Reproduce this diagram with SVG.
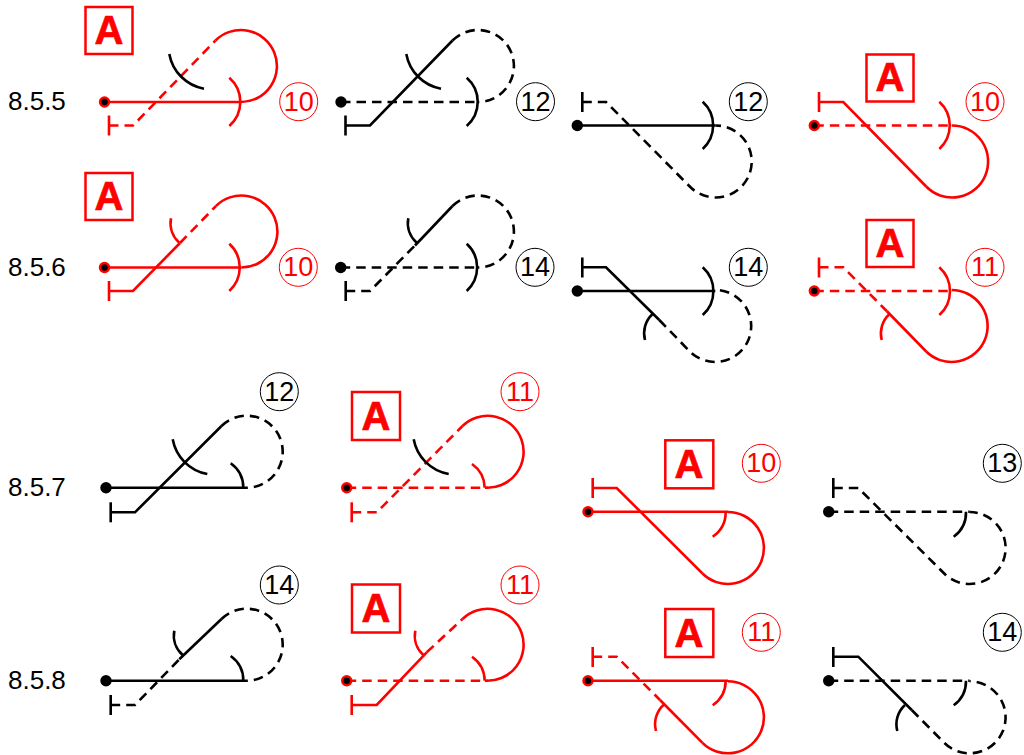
<svg xmlns="http://www.w3.org/2000/svg" width="1024" height="755" viewBox="0 0 1024 755">
<style>
path{fill:none;stroke-width:2.6}
.r{stroke:#f00}
.k{stroke:#000}
.d{stroke-dasharray:9.5 6}
.m{fill:#f00}
.o{fill:#000}
.nr{fill:#fff;stroke:#f00;stroke-width:1}
.nk{fill:#fff;stroke:#000;stroke-width:1}
text{font-family:"Liberation Sans",Arial,sans-serif}
.t{font-size:26px;fill:#000}
.v{font-size:27px;text-anchor:middle}
.b{fill:#fff;stroke:#f00;stroke-width:2.5}
.a{font-size:40px;font-weight:bold;fill:#f00;stroke:#f00;stroke-width:.7;text-anchor:middle}
</style>
<g id="labels">
<text class="t" x="8" y="110">8.5.5</text>
<text class="t" x="8" y="276">8.5.6</text>
<text class="t" x="8" y="496">8.5.7</text>
<text class="t" x="8" y="689">8.5.8</text>
</g>

<g id="fig-855-1">
<path class="r" d="M104.5 102H241"/>
<path class="r" d="M109 115.5V135.500"/>
<path class="r d" d="M109 125.500H133L215.500 40.500"/>
<path class="r" d="M215.500 40.500A36 36 0 1 1 241 102"/>
<path class="r" d="M229.300 77.700A32 32 0 0 1 229.300 126"/>
<path class="k" d="M169.300 54A43 43 0 0 0 204 88.700"/>
<circle class="m" cx="104.500" cy="102" r="5.700"/><circle class="o" cx="104.500" cy="102" r="3.200"/>
<circle class="nr" cx="298.700" cy="101.700" r="19"/><text class="v" x="298.700" y="110.500" fill="#f00">10</text>
<rect class="b" x="85.500" y="7" width="47" height="47"/><text class="a" x="109" y="44">A</text>
</g>
<g id="fig-855-2">
<path class="k d" d="M341 102H478"/>
<path class="k" d="M345.500 115.500V135.500"/>
<path class="k" d="M345.500 125.500H370L452.500 40.500"/>
<path class="k d" d="M452.500 40.500A36 36 0 1 1 478 102"/>
<path class="k" d="M466.700 77.700A32 32 0 0 1 466.700 126"/>
<path class="k" d="M406.300 54A43 43 0 0 0 441 88.700"/>
<circle class="o" cx="341" cy="102" r="5.700"/>
<circle class="nk" cx="535.500" cy="101.700" r="19"/><text class="v" x="535.500" y="110.500" fill="#000">12</text>
</g>
<g id="fig-855-3">
<path class="k" d="M577.300 125.500H715.300"/>
<path class="k" d="M582.300 92V112"/>
<path class="k d" d="M582.300 102H606L689.800 186.500A36 36 0 1 0 715.300 125.500"/>
<path class="k" d="M702.700 101.700A32 32 0 0 1 702.700 149"/>
<circle class="o" cx="577.300" cy="125.500" r="5.700"/>
<circle class="nk" cx="748.300" cy="101.700" r="19"/><text class="v" x="748.300" y="110.500" fill="#000">12</text>
</g>
<g id="fig-855-4">
<path class="r d" d="M814.300 125.500H951.700"/>
<path class="r" d="M819 92V112"/>
<path class="r" d="M819 102H843.300L926.200 186.500"/>
<path class="r" d="M951.700 125.500A36 36 0 1 1 926.200 186.500"/>
<path class="r" d="M939.300 101.700A32 32 0 0 1 939.300 149"/>
<circle class="m" cx="814.300" cy="125.500" r="5.700"/><circle class="o" cx="814.300" cy="125.500" r="3.200"/>
<circle class="nr" cx="985" cy="101.700" r="19"/><text class="v" x="985" y="110.500" fill="#f00">10</text>
<rect class="b" x="866.500" y="54.500" width="47" height="47"/><text class="a" x="890" y="91">A</text>
</g>

<g id="fig-856-1">
<path class="r" d="M104.500 267.500H241.500"/>
<path class="r" d="M109 281V301"/>
<path class="r" d="M109 291H133L180 243"/>
<path class="r d" d="M180 243L216 206"/>
<path class="r" d="M216 206A36 36 0 1 1 241.500 267.500"/>
<path class="r" d="M229.300 243.700A32 32 0 0 1 229.300 291"/>
<path class="r" d="M171 218.300A26 26 0 0 0 179.300 242.700"/>
<circle class="m" cx="104.500" cy="267.500" r="5.700"/><circle class="o" cx="104.500" cy="267.500" r="3.200"/>
<circle class="nr" cx="298.300" cy="267.300" r="19"/><text class="v" x="298.300" y="276" fill="#f00">10</text>
<rect class="b" x="85.500" y="173" width="47" height="47"/><text class="a" x="109" y="210">A</text>
</g>
<g id="fig-856-2">
<path class="k d" d="M340.700 267.500H478"/>
<path class="k" d="M345.700 281V301"/>
<path class="k d" d="M345.700 291H370L415 245.500"/>
<path class="k" d="M415 245.500L452.500 206"/>
<path class="k d" d="M452.500 206A36 36 0 1 1 478 267.500"/>
<path class="k" d="M466.700 243.700A32 32 0 0 1 466.700 291"/>
<path class="k" d="M408.300 218.300A26 26 0 0 0 416.700 242.700"/>
<circle class="o" cx="340.700" cy="267.500" r="5.700"/>
<circle class="nk" cx="535" cy="267.300" r="19"/><text class="v" x="535" y="276" fill="#000">14</text>
</g>
<g id="fig-856-3">
<path class="k" d="M577.300 291H715.300"/>
<path class="k" d="M582.300 257.500V277.500"/>
<path class="k" d="M582.300 267.300H606L659.300 320"/>
<path class="k d" d="M659.300 320L689.800 351.500A36 36 0 1 0 715.300 290"/>
<path class="k" d="M702.700 267.300A32 32 0 0 1 702.700 315"/>
<path class="k" d="M645 340A26 26 0 0 1 652.300 314.300"/>
<circle class="o" cx="577.300" cy="291" r="5.700"/>
<circle class="nk" cx="748.300" cy="267.300" r="19"/><text class="v" x="748.300" y="276" fill="#000">14</text>
</g>
<g id="fig-856-4">
<path class="r d" d="M814.300 291H951.700"/>
<path class="r" d="M819 257.500V277.500"/>
<path class="r d" d="M819 267.300H843.300L886.700 311"/>
<path class="r" d="M886.700 311L926.200 351.500"/>
<path class="r" d="M951.700 290A36 36 0 1 1 926.200 351.500"/>
<path class="r" d="M939.300 267.300A32 32 0 0 1 939.300 315"/>
<path class="r" d="M881.700 340A26 26 0 0 1 889.300 314.300"/>
<circle class="m" cx="814.300" cy="291" r="5.700"/><circle class="o" cx="814.300" cy="291" r="3.200"/>
<circle class="nr" cx="985" cy="267.300" r="19"/><text class="v" x="985" y="276" fill="#f00">11</text>
<rect class="b" x="866.500" y="220" width="47" height="47"/><text class="a" x="890" y="257">A</text>
</g>

<g id="fig-857-1">
<path class="k" d="M106 487.700H247"/>
<path class="k" d="M110.700 502.300V522.300"/>
<path class="k" d="M110.700 512.300H135L221.500 426"/>
<path class="k d" d="M221.500 426A36 36 0 1 1 247 487.700"/>
<path class="k" d="M230.700 463.300A30 30 0 0 1 243.300 487.700"/>
<path class="k" d="M172.700 439.300A43 43 0 0 0 207.300 474"/>
<circle class="o" cx="106" cy="487.700" r="5.700"/>
<circle class="nk" cx="279.300" cy="391.700" r="19"/><text class="v" x="279.300" y="400.500" fill="#000">12</text>
</g>
<g id="fig-857-2">
<path class="r d" d="M346.700 487.700H488"/>
<path class="r" d="M351.700 502.300V522.300"/>
<path class="r d" d="M351.700 512.300H376.700L462.500 426"/>
<path class="r" d="M462.500 426A36 36 0 1 1 485 487.700"/>
<path class="r" d="M472 464A30 30 0 0 1 484.700 487.700"/>
<path class="k" d="M413.700 439.300A43 43 0 0 0 448.700 474"/>
<circle class="m" cx="346.700" cy="487.700" r="5.700"/><circle class="o" cx="346.700" cy="487.700" r="3.200"/>
<circle class="nr" cx="520" cy="391.700" r="19"/><text class="v" x="520" y="400.500" fill="#f00">11</text>
<rect class="b" x="352" y="392" width="48" height="48"/><text class="a" x="376" y="430">A</text>
</g>
<g id="fig-857-3">
<path class="r" d="M588 511.700H728"/>
<path class="r" d="M592.700 478V498"/>
<path class="r" d="M592.700 488H616.700L702.500 573.500"/>
<path class="r" d="M728 512A36 36 0 1 1 702.500 573.500"/>
<path class="r" d="M725.700 511.700A30 30 0 0 1 712.700 536.700"/>
<circle class="m" cx="588" cy="511.700" r="5.700"/><circle class="o" cx="588" cy="511.700" r="3.200"/>
<circle class="nr" cx="761.300" cy="463.300" r="19"/><text class="v" x="761.300" y="472" fill="#f00">10</text>
<rect class="b" x="665.300" y="440.300" width="48" height="48"/><text class="a" x="689" y="478">A</text>
</g>
<g id="fig-857-4">
<path class="k d" d="M828.700 511.700H969.700"/>
<path class="k" d="M833.300 478V498"/>
<path class="k d" d="M833.300 488H858.300L944.200 573.500A36 36 0 1 0 969.700 512"/>
<path class="k" d="M966 511.700A30 30 0 0 1 953.700 536.700"/>
<circle class="o" cx="828.700" cy="511.700" r="5.700"/>
<circle class="nk" cx="1002.300" cy="463.300" r="19"/><text class="v" x="1002.300" y="472" fill="#000">13</text>
</g>

<g id="fig-858-1">
<path class="k" d="M106 680.700H247"/>
<path class="k" d="M110.700 695V715"/>
<path class="k d" d="M110.700 705H135L179.300 659.300"/>
<path class="k" d="M179.300 659.300L221.500 619"/>
<path class="k d" d="M221.500 619A36 36 0 1 1 247 680.700"/>
<path class="k" d="M230.700 656A30 30 0 0 1 243.300 680.700"/>
<path class="k" d="M174.300 630.700A26 26 0 0 0 182.700 655"/>
<circle class="o" cx="106" cy="680.700" r="5.700"/>
<circle class="nk" cx="279.300" cy="585" r="19"/><text class="v" x="279.300" y="593.700" fill="#000">14</text>
</g>
<g id="fig-858-2">
<path class="r d" d="M346.700 680.700H488"/>
<path class="r" d="M351.700 695V715"/>
<path class="r" d="M351.700 705H376.700L426.700 652.300"/>
<path class="r d" d="M426.700 652.300L462.500 619"/>
<path class="r" d="M462.500 619A36 36 0 1 1 485 680.700"/>
<path class="r" d="M472 656.700A30 30 0 0 1 484.700 680.700"/>
<path class="r" d="M415.300 630.700A26 26 0 0 0 423.300 655"/>
<circle class="m" cx="346.700" cy="680.700" r="5.700"/><circle class="o" cx="346.700" cy="680.700" r="3.200"/>
<circle class="nr" cx="520" cy="585" r="19"/><text class="v" x="520" y="593.700" fill="#f00">11</text>
<rect class="b" x="352" y="584.500" width="48" height="48"/><text class="a" x="376" y="622">A</text>
</g>
<g id="fig-858-3">
<path class="r" d="M588 680.700H728"/>
<path class="r" d="M592.700 647V667"/>
<path class="r d" d="M592.700 656.700H616.700L660 700"/>
<path class="r" d="M660 700L702.500 742.800"/>
<path class="r" d="M728 681.300A36 36 0 1 1 702.500 742.800"/>
<path class="r" d="M725.700 680.700A30 30 0 0 1 712.700 705.300"/>
<path class="r" d="M656 731A26 26 0 0 1 664.300 704.300"/>
<circle class="m" cx="588" cy="680.700" r="5.700"/><circle class="o" cx="588" cy="680.700" r="3.200"/>
<circle class="nr" cx="761.300" cy="632.300" r="19"/><text class="v" x="761.300" y="641" fill="#f00">11</text>
<rect class="b" x="665.300" y="609" width="48" height="48"/><text class="a" x="689" y="647">A</text>
</g>
<g id="fig-858-4">
<path class="k d" d="M828.700 680.700H969.700"/>
<path class="k" d="M833.300 647V667"/>
<path class="k" d="M833.300 656.700H858.300L911.700 710"/>
<path class="k d" d="M911.700 710L944.200 742.800A36 36 0 1 0 969.700 681.300"/>
<path class="k" d="M966 680.700A30 30 0 0 1 953.700 705.300"/>
<path class="k" d="M897.300 731A26 26 0 0 1 905 705"/>
<circle class="o" cx="828.700" cy="680.700" r="5.700"/>
<circle class="nk" cx="1002.300" cy="632.300" r="19"/><text class="v" x="1002.300" y="641" fill="#000">14</text>
</g>
</svg>
